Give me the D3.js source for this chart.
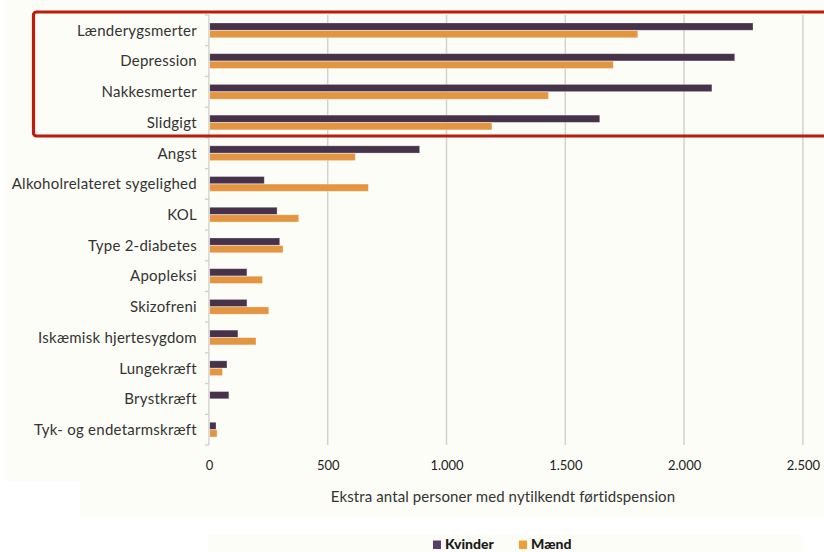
<!DOCTYPE html>
<html lang="da">
<head>
<meta charset="utf-8">
<script src="https://cdn.jsdelivr.net/npm/d3@7"></script>
<style>
  html, body { margin: 0; padding: 0; background: #ffffff; }
  svg { display: block; font-family: Lato, "Open Sans", sans-serif; }
</style>
</head>
<body>
<svg id="chart" width="824" height="552"></svg>
<script>
// Sygdomme og ekstra antal nytilkendte førtidspensioner
const categories = [
  "Lænderygsmerter", "Depression", "Nakkesmerter", "Slidgigt", "Angst",
  "Alkoholrelateret sygelighed", "KOL", "Type 2-diabetes", "Apopleksi",
  "Skizofreni", "Iskæmisk hjertesygdom", "Lungekræft", "Brystkræft",
  "Tyk- og endetarmskræft"
];
const kvinder = [2290, 2213, 2117, 1645, 887, 233, 287, 298, 160, 160, 122, 76, 84, 30];
const maend   = [1805, 1702, 1429, 1191, 616, 671, 378, 312, 225, 252, 198, 57, 0, 34];
const seriesNames = ["Kvinder", "Mænd"];
const xTicks = [0, 500, 1000, 1500, 2000, 2500];
const axisTitle = "Ekstra antal personer med nytilkendt førtidspension";

const colors = { Kvinder: "#463249", "Mænd": "#e39541" };
const legendColors = { Kvinder: "#5a3d6b", "Mænd": "#f0a032" };

const svg = d3.select("#chart");
const W = 824, H = 552;
const plot = { left: 208.9, right: 802.9, top: 15, bottom: 445 };

const da = d3.formatLocale({ decimal: ",", thousands: ".", grouping: [3], currency: ["", " kr."] });
const fmt = da.format(",d");

// Baggrundsfelter
svg.append("rect").attr("x", 5).attr("y", 0).attr("width", W - 5).attr("height", 481).attr("fill", "#fdfdf7");
svg.append("rect").attr("x", 80).attr("y", 481).attr("width", W - 80).attr("height", 37).attr("fill", "#fdfdf7");
svg.append("rect").attr("x", 208).attr("y", 535).attr("width", 594).attr("height", 17).attr("fill", "#fdfdf7");

const x = d3.scaleLinear().domain([0, 2500]).range([plot.left, plot.right]);
const y = d3.scaleBand().domain(categories).range([plot.top, plot.bottom])
  .paddingInner(0.5).paddingOuter(0.25);
const sub = d3.scaleBand().domain(seriesNames).range([0, y.bandwidth()]).padding(0.04);

// Lodrette gitterlinjer
svg.append("g").selectAll("line").data(xTicks.filter(d => d > 0)).join("line")
  .attr("x1", d => x(d)).attr("x2", d => x(d))
  .attr("y1", plot.top).attr("y2", plot.bottom)
  .attr("stroke", "#d2d2cf").attr("stroke-width", 1.5);

// Søjler
const rows = categories.map((c, i) => ({ cat: c, values: [
  { key: "Kvinder", v: kvinder[i] }, { key: "Mænd", v: maend[i] }
]}));
const g = svg.append("g");
g.selectAll("g").data(rows).join("g")
  .attr("transform", d => `translate(0,${y(d.cat)})`)
  .selectAll("rect").data(d => d.values.filter(e => e.v > 0)).join("rect")
  .attr("x", x(0) + 0.8)
  .attr("y", d => sub(d.key))
  .attr("width", d => x(d.v) - x(0) - 0.8)
  .attr("height", sub.bandwidth())
  .attr("fill", d => colors[d.key])
  .attr("stroke", "rgba(255,255,255,0.35)").attr("stroke-width", 0.8);

// Kategoriakse
const step = y.step();
const bounds = d3.range(categories.length + 1).map(i => plot.top + i * step);
const yAxisG = svg.append("g");
yAxisG.append("line")
  .attr("x1", x(0)).attr("x2", x(0)).attr("y1", plot.top).attr("y2", plot.bottom)
  .attr("stroke", "#cfcfcc").attr("stroke-width", 1.3);
yAxisG.selectAll("line.tick").data(bounds).join("line").attr("class", "tick")
  .attr("x1", x(0) - 4).attr("x2", x(0)).attr("y1", d => d).attr("y2", d => d)
  .attr("stroke", "#cfcfcc").attr("stroke-width", 1.3);
svg.append("g")
  .attr("transform", `translate(${x(0) - 12},0)`)
  .call(d3.axisLeft(y).tickSize(0).tickPadding(0))
  .call(a => a.select(".domain").remove())
  .call(a => a.selectAll("text")
    .attr("font-family", "Lato, sans-serif").attr("font-size", 15)
    .attr("letter-spacing", "0.25px")
    .attr("fill", "#333").attr("dy", "0.36em"));

// Værdiakse
svg.append("g")
  .attr("transform", `translate(0,${plot.bottom + 20})`)
  .call(d3.axisBottom(x).tickValues(xTicks).tickFormat(fmt).tickSize(0).tickPadding(0))
  .call(a => a.select(".domain").remove())
  .call(a => a.selectAll("text")
    .attr("font-family", "Lato, sans-serif").attr("font-size", 13)
    .attr("fill", "#222").attr("dy", "0.35em"));

svg.append("text")
  .attr("x", 503).attr("y", 497).attr("dy", "0.35em")
  .attr("text-anchor", "middle")
  .attr("font-size", 15).attr("letter-spacing", "0.1px").attr("fill", "#333")
  .text(axisTitle);

// Fremhævning af de fire største
svg.append("rect")
  .attr("x", 33.5).attr("y", 12).attr("width", 840).attr("height", 124)
  .attr("rx", 3).attr("fill", "none")
  .attr("stroke", "#b81d0e").attr("stroke-width", 3.2);

// Forklaring
const legend = svg.append("g").attr("transform", "translate(433,540)");
const lx = [0, 86];
seriesNames.forEach((s, i) => {
  const lg = legend.append("g").attr("transform", `translate(${lx[i]},0)`);
  lg.append("rect").attr("y", 0.5).attr("width", 8).attr("height", 8.5).attr("fill", legendColors[s]);
  lg.append("text").attr("x", 12).attr("y", 9)
    .attr("font-family", "Lato, sans-serif").attr("font-weight", 900)
    .attr("font-size", 14).attr("fill", "#1a1a1a").text(s);
});
</script>
</body>
</html>
